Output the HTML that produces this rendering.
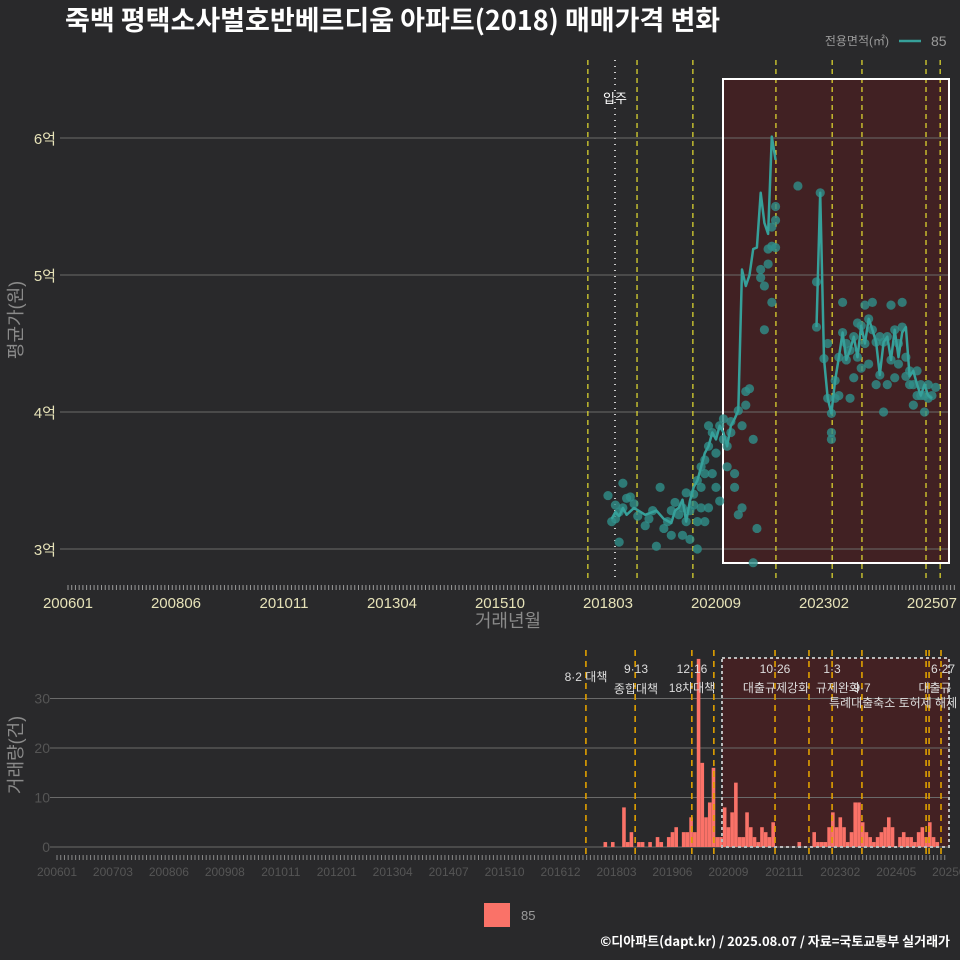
<!DOCTYPE html>
<html><head><meta charset="utf-8">
<style>
html,body{margin:0;padding:0;background:#29292b;}
svg{display:block;font-family:"Liberation Sans","Noto Sans CJK KR",sans-serif;}
</style></head>
<body>
<svg id="c" width="960" height="960" viewBox="0 0 960 960" xmlns="http://www.w3.org/2000/svg">
<rect width="960" height="960" fill="#29292b"/>
<text x="65" y="30" fill="#ffffff" font-size="27" font-weight="bold" font-family="'Noto Sans CJK KR',sans-serif">죽백 평택소사벌호반베르디움 아파트(2018) 매매가격 변화</text>
<g id="topG"></g>
<g id="botG"></g>
<text x="950" y="946" fill="#ffffff" font-size="13" font-weight="bold" text-anchor="end" font-family="'Noto Sans CJK KR',sans-serif">©디아파트(dapt.kr) / 2025.08.07 / 자료=국토교통부 실거래가</text>
</svg>
<script>
// ---- data (months since 2006-01) ----
const priceTicks = [3, 4, 5, 6];
const priceTickLabels = ["3억", "4억", "5억", "6억"];
const topXLabels = ["200601","200806","201011","201304","201510","201803","202009","202302","202507"];
const botXLabels = ["200601","200703","200806","200908","201011","201201","201304","201407","201510","201612","201803","201906","202009","202111","202302","202405","202508"];
const lineMonths = [146,147,148,149,150,152,155,158,160,162,163,164,165,166,167,168,169,170,171,172,173,174,175,176,177,178,179,180,181,182,183,184,185,186,187,188,189,190, 201,202,203,204,205,206,207,208,209,210,211,212,213,214,215,216,217,218,219,220,221,222,223,224,225,226,227,228,229,230,231,232];
const linePrices = [3.22,3.27,3.24,3.3,3.25,3.3,3.25,3.28,3.22,3.19,3.28,3.3,3.36,3.2,3.35,3.45,3.5,3.6,3.7,3.75,3.85,3.8,3.9,3.85,3.75,3.9,3.95,4.01,5.04,4.92,5.0,5.19,5.2,5.6,5.38,5.3,6.01,5.84, 4.62,5.6,4.39,4.1,3.99,4.23,4.4,4.58,4.38,4.45,4.55,4.4,4.63,4.5,4.68,4.6,4.51,4.27,4.51,4.55,4.38,4.6,4.4,4.58,4.62,4.26,4.3,4.2,4.12,4.2,4.12,4.1];
const ptMonths = [145,146,147,147,148,148,149,149,150,151,152,153,155,156,157,158,159,160,161,162,162,163,164,165,165,166,166,167,167,168,168,169,169,169,170,170,170,171,171,171,172,172,172,173,173,174,174,175,175,176,176,177,177,178,178,179,179,180,180,181,181,182,182,183,184,184,185,186,186,187,187,188,188,189,189,189,190,190,190, 196,201,201,202,203,204,204,205,205,205,206,206,207,207,208,208,209,209,210,210,211,211,212,212,213,213,214,214,215,215,216,216,217,217,218,218,219,219,220,220,221,221,222,222,223,223,224,224,225,225,226,226,227,227,228,228,229,229,230,230,231,231,232,233];
const ptPrices = [3.39,3.2,3.32,3.22,3.27,3.05,3.3,3.48,3.37,3.38,3.33,3.24,3.17,3.22,3.28,3.02,3.45,3.15,3.2,3.28,3.1,3.34,3.25,3.3,3.1,3.41,3.2,3.28,3.07,3.32,3.4,3.2,3.5,3.0,3.3,3.6,3.45,3.55,3.2,3.65,3.75,3.3,3.9,3.85,3.55,3.7,3.45,3.9,3.35,3.8,3.95,3.75,3.6,3.85,3.93,3.45,3.55,4.01,3.25,3.9,3.3,4.15,4.05,4.17,2.9,3.8,3.15,5.04,4.98,4.92,4.6,5.19,5.08,5.21,4.8,5.35,5.4,5.2,5.5, 5.65,4.62,4.95,5.6,4.39,4.1,4.5,3.99,3.85,3.8,4.23,4.1,4.4,4.12,4.58,4.8,4.38,4.5,4.45,4.1,4.55,4.25,4.4,4.65,4.63,4.32,4.5,4.78,4.68,4.35,4.6,4.8,4.51,4.2,4.27,4.55,4.51,4.0,4.55,4.2,4.38,4.78,4.6,4.25,4.5,4.35,4.62,4.8,4.26,4.4,4.3,4.2,4.2,4.05,4.12,4.3,4.12,4.2,4.12,4.0,4.1,4.2,4.12,4.18];
const volStart = 147;
const volumes = [1,0,1,0,0,8,1,3,0,1,1,0,1,0,2,1,0,2,3,4,0,3,3,6,3,38,17,6,9,16,2,2,8,4,7,13,2,2,7,4,2,1,4,3,2,5,0,0,0,0,0,0,1,0,0,0,3,1,1,1,4,7,4,6,4,1,3,9,9,5,3,2,1,2,3,4,6,4,0,2,3,2,2,1,3,4,2,5,2,1,0];
const topEvents = [139.6,152.8,167.8,190.1,205.2,213.2,230.4,234.2];
const botEvents = [141.8,155,170.2,176.1,192.5,201.6,207.8,215.8,233,233.8,237];

const NS="http://www.w3.org/2000/svg";
function mk(parent,tag,attrs){const e=document.createElementNS(NS,tag);for(const k in attrs)e.setAttribute(k,attrs[k]);parent.appendChild(e);return e;}
const topG=document.getElementById('topG'), botG=document.getElementById('botG');

// ---- top axes ----
const tx=m=>68+3.724*m;
const ty=p=>549-(p-3)*137;
let r=mk(topG,'rect',{x:723,y:79,width:226,height:484,fill:'#4a1f22',opacity:0.75,stroke:'none'});


priceTicks.forEach((p,i)=>{
  let g=mk(topG,'line',{x1:60,x2:950,y1:ty(p),y2:ty(p),stroke:'#6a6a6a','stroke-width':1});
  
  
  let t=mk(topG,'text',{x:56,y:ty(p)+6,fill:'#e6e2b8','font-size':15,'text-anchor':'end'});
  t.textContent=priceTickLabels[i];
  
  
});
topEvents.forEach(m=>{
  let l=mk(topG,'line',{x1:tx(m),x2:tx(m),y1:60,y2:580,stroke:'#e8e030','stroke-width':1.2,'stroke-dasharray':'5,4'});
  
  
});
let mv=mk(topG,'line',{x1:615,x2:615,y1:60,y2:580,stroke:'#cccccc','stroke-width':2,'stroke-dasharray':'1,5'});


let mvt=mk(topG,'text',{x:615,y:103,fill:'#ffffff','font-size':13,'text-anchor':'middle'});
mvt.textContent='입주';


let box=mk(topG,'rect',{x:723,y:79,width:226,height:484,fill:'none',stroke:'#ffffff','stroke-width':2});


ptMonths.forEach((m,i)=>{
  let c=mk(topG,'circle',{cx:tx(m),cy:ty(ptPrices[i]),r:4.6,fill:'#2f8f8a',opacity:0.8});
  
  
});
let d='';
lineMonths.forEach((m,i)=>{
  const gap=i===0||m-lineMonths[i-1]>4;
  d+=(gap?'M':'L')+tx(m).toFixed(1)+','+ty(linePrices[i]).toFixed(1);
});
let pl=mk(topG,'path',{d:d,fill:'none',stroke:'#36a09a','stroke-width':2.5,'stroke-linejoin':'round'});


for(let m=0;m<=238;m++){
  let k=mk(topG,'line',{x1:tx(m),x2:tx(m),y1:585,y2:590,stroke:'#999','stroke-width':1});
  
  
}
topXLabels.forEach((lab,i)=>{
  let t=mk(topG,'text',{x:tx(i*29),y:608,fill:'#e6e2b8','font-size':15,'text-anchor':'middle'});
  t.textContent=lab;
  
  
});
let xt=mk(topG,'text',{x:508,y:627,fill:'#8a8a8a','font-size':18,'text-anchor':'middle'});
xt.textContent='거래년월';


let yt=mk(topG,'text',{x:0,y:0,fill:'#8a8a8a','font-size':18,'text-anchor':'middle',transform:'translate(22,320) rotate(-90)'});
yt.textContent='평균가(원)';


let lg=mk(topG,'text',{x:889,y:45,fill:'#9a9a9a','font-size':12,'text-anchor':'end'});
lg.textContent='전용면적(㎡)';


let ll=mk(topG,'line',{x1:899,x2:921,y1:41,y2:41,stroke:'#36a09a','stroke-width':2.5});


let lt=mk(topG,'text',{x:931,y:46,fill:'#9a9a9a','font-size':14});
lt.textContent='85';



// ---- bottom axes ----
const bx=m=>57+3.73*m;
const by=v=>847-v*4.95;
let br=mk(botG,'rect',{x:722,y:658,width:227,height:189,fill:'#4a1f22',opacity:0.8});


[0,10,20,30].forEach(v=>{
  let g=mk(botG,'line',{x1:50,x2:950,y1:by(v),y2:by(v),stroke:'#6a6a6a','stroke-width':1});
  
  
  let t=mk(botG,'text',{x:50,y:by(v)+5,fill:'#555','font-size':14,'text-anchor':'end'});
  t.textContent=v;
  
  
});
volumes.forEach((v,i)=>{
  if(!v)return;
  const m=volStart+i;
  let b=mk(botG,'rect',{x:bx(m)-1.8,y:by(v),width:3.6,height:v*4.95,fill:'#fa7268'});
  
  
});
botEvents.forEach(m=>{
  let l=mk(botG,'line',{x1:bx(m),x2:bx(m),y1:650,y2:858,stroke:'#e0a000','stroke-width':1.6,'stroke-dasharray':'6,5'});
  
  
});
let bb=mk(botG,'rect',{x:722,y:658,width:227,height:189,fill:'none',stroke:'#bbbbbb','stroke-width':2,'stroke-dasharray':'3,3'});


const annX=[586,636,692,775,832,943,636,692,776,838,862,829,935];
const annY=[681,673,673,673,673,673,693,692,692,692,692,707,692];
const annA=["middle","middle","middle","middle","middle","middle","middle","middle","middle","middle","middle","start","middle"];
const annT=["8·2 대책","9·13","12·16","10·26","1·3","6·27","종합대책","18차대책","대출규제강화","규제완화","9·7","특례대출축소 토허제 해제","대출규"];
annT.forEach((s,i)=>{
  let t=mk(botG,'text',{x:annX[i],y:annY[i],fill:'#dddddd','font-size':12,'text-anchor':annA[i]});
  t.textContent=s;
  
  
});
for(let m=0;m<=238;m++){
  let k=mk(botG,'line',{x1:bx(m),x2:bx(m),y1:855,y2:860,stroke:'#888','stroke-width':1});
  
  
}
botXLabels.forEach((lab,i)=>{
  let t=mk(botG,'text',{x:bx(i*15),y:876,fill:'#555','font-size':12,'text-anchor':'middle'});
  t.textContent=lab;
  
  
});
let byt=mk(botG,'text',{x:0,y:0,fill:'#8a8a8a','font-size':18,'text-anchor':'middle',transform:'translate(22,755) rotate(-90)'});
byt.textContent='거래량(건)';


let lk=mk(botG,'rect',{x:484,y:903,width:26,height:24,fill:'#fa7268'});


let lkt=mk(botG,'text',{x:521,y:920,fill:'#9a9a9a','font-size':13});
lkt.textContent='85';


</script>
</body></html>
